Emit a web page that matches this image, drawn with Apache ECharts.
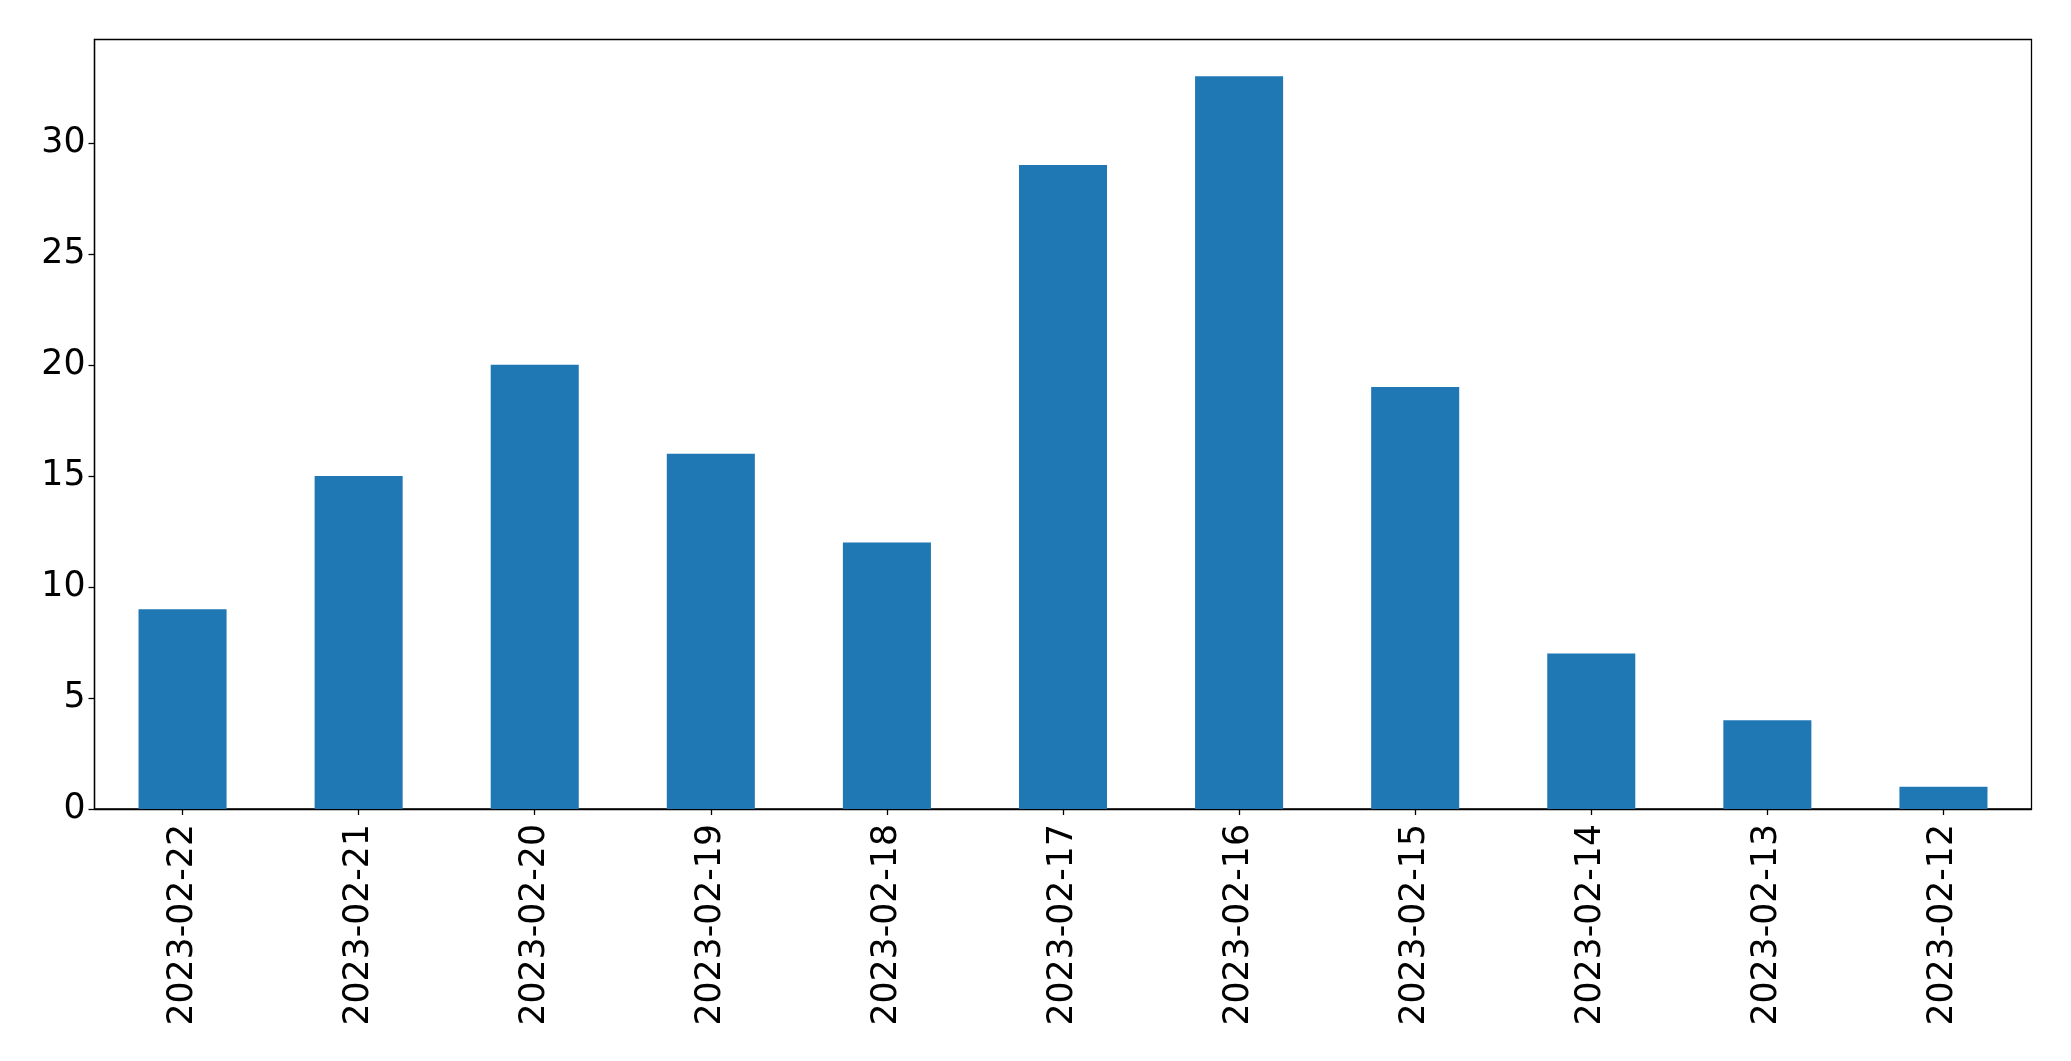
<!DOCTYPE html>
<html>
<head>
<meta charset="utf-8">
<script src="https://cdn.jsdelivr.net/npm/echarts@6/dist/echarts.min.js"></script>
<style>
html,body{margin:0;padding:0;background:#fff;}
#c{width:2071px;height:1061px;}
</style>
</head>
<body>
<div id="c"></div>
<script>
const categories = ['2023-02-22','2023-02-21','2023-02-20','2023-02-19','2023-02-18','2023-02-17','2023-02-16','2023-02-15','2023-02-14','2023-02-13','2023-02-12'];
const values = [9,15,20,16,12,29,33,19,7,4,1];
const yTicks = [0,5,10,15,20,25,30];

const chart = echarts.init(document.getElementById('c'), null, {renderer:'canvas'});
const font = 'DejaVu Sans';
chart.setOption({
  animation:false,
  backgroundColor:'#fff',
  grid:{left:94.5,right:39.5,top:39.5,bottom:252,show:true,borderColor:'#000',borderWidth:1.3,backgroundColor:'transparent'},
  xAxis:{
    type:'category',
    data:categories,
    axisLine:{show:true,lineStyle:{color:'#000',width:1.3}},
    axisTick:{show:true,alignWithLabel:true,length:6,lineStyle:{color:'#000',width:1.3}},
    axisLabel:{rotate:90,margin:15,fontSize:34.7,fontFamily:font,color:'#000',interval:0}
  },
  yAxis:{
    type:'value',
    min:0,
    max:34.65,
    interval:5,
    splitLine:{show:false},
    axisLine:{show:true,lineStyle:{color:'#000',width:1.3}},
    axisTick:{show:true,length:6,customValues:yTicks,lineStyle:{color:'#000',width:1.3}},
    axisLabel:{margin:9,fontSize:34.7,fontFamily:font,color:'#000',customValues:yTicks}
  },
  series:[{
    type:'bar',
    data:values,
    barCategoryGap:'50%',
    itemStyle:{color:'#1f77b4'}
  }]
});
</script>
</body>
</html>
